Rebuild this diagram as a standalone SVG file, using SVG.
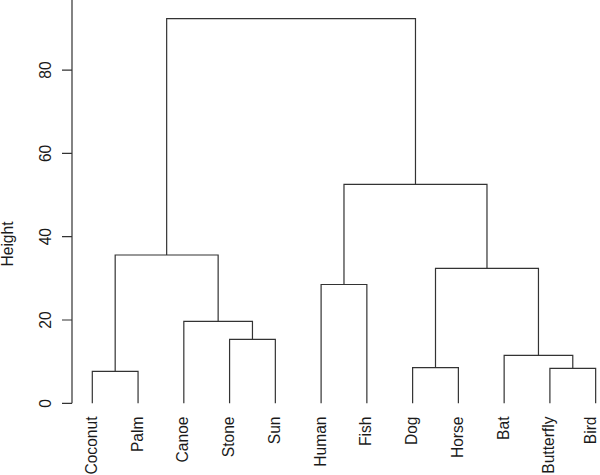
<svg xmlns="http://www.w3.org/2000/svg" width="600" height="475" viewBox="0 0 600 475">
<style>
.ln{fill:none;stroke:#333;stroke-width:1.2}
.lb{font-family:"Liberation Sans",Arial,sans-serif;font-size:15.6px;fill:#1a1a1a}
.leaf{text-anchor:end}
.tk{text-anchor:middle}
</style>
<rect width="600" height="475" fill="#fff"/>
<g id="axis">
<path class="ln" d="M72 0V403.3M62 403.3H72M62 320H72M62 236.7H72M62 153.4H72M62 70.1H72"/>
<text class="lb tk" transform="translate(50.5,403.3) rotate(-90)">0</text>
<text class="lb tk" transform="translate(50.5,320) rotate(-90)">20</text>
<text class="lb tk" transform="translate(50.5,236.7) rotate(-90)">40</text>
<text class="lb tk" transform="translate(50.5,153.4) rotate(-90)">60</text>
<text class="lb tk" transform="translate(50.5,70.1) rotate(-90)">80</text>
<text class="lb tk" transform="translate(12.5,244) rotate(-90)">Height</text>
</g>
<g id="connectors">
<path class="ln" d="M92.3 403.3V371.3H138.06V403.3"/>
<path class="ln" d="M229.58 403.3V339.3H275.34V403.3"/>
<path class="ln" d="M183.82 403.3V321.3H252.46V339.3"/>
<path class="ln" d="M115.18 371.3V255H218.14V321.3"/>
<path class="ln" d="M321.1 403.3V284.5H366.86V403.3"/>
<path class="ln" d="M412.62 403.3V367.7H458.38V403.3"/>
<path class="ln" d="M549.9 403.3V368.3H595.66V403.3"/>
<path class="ln" d="M504.14 403.3V355.3H572.78V368.3"/>
<path class="ln" d="M435.5 367.7V268.3H538.46V355.3"/>
<path class="ln" d="M343.98 284.5V184.3H486.98V268.3"/>
<path class="ln" d="M166.66 255V18.7H415.48V184.3"/>
</g>
<g id="leaf-coconut"><text class="lb leaf" transform="translate(96.8,416.5) rotate(-90)">Coconut</text></g>
<g id="leaf-palm"><text class="lb leaf" transform="translate(142.56,416.5) rotate(-90)">Palm</text></g>
<g id="leaf-canoe"><text class="lb leaf" transform="translate(188.32,416.5) rotate(-90)">Canoe</text></g>
<g id="leaf-stone"><text class="lb leaf" transform="translate(234.08,416.5) rotate(-90)">Stone</text></g>
<g id="leaf-sun"><text class="lb leaf" transform="translate(279.84,416.5) rotate(-90)">Sun</text></g>
<g id="leaf-human"><text class="lb leaf" transform="translate(325.6,416.5) rotate(-90)">Human</text></g>
<g id="leaf-fish"><text class="lb leaf" transform="translate(371.36,416.5) rotate(-90)">Fish</text></g>
<g id="leaf-dog"><text class="lb leaf" transform="translate(417.12,416.5) rotate(-90)">Dog</text></g>
<g id="leaf-horse"><text class="lb leaf" transform="translate(462.88,416.5) rotate(-90)">Horse</text></g>
<g id="leaf-bat"><text class="lb leaf" transform="translate(508.64,416.5) rotate(-90)">Bat</text></g>
<g id="leaf-butterfly"><text class="lb leaf" transform="translate(554.4,416.5) rotate(-90)">Butterfly</text></g>
<g id="leaf-bird"><text class="lb leaf" transform="translate(596.4,416.5) rotate(-90)">Bird</text></g>
</svg>
